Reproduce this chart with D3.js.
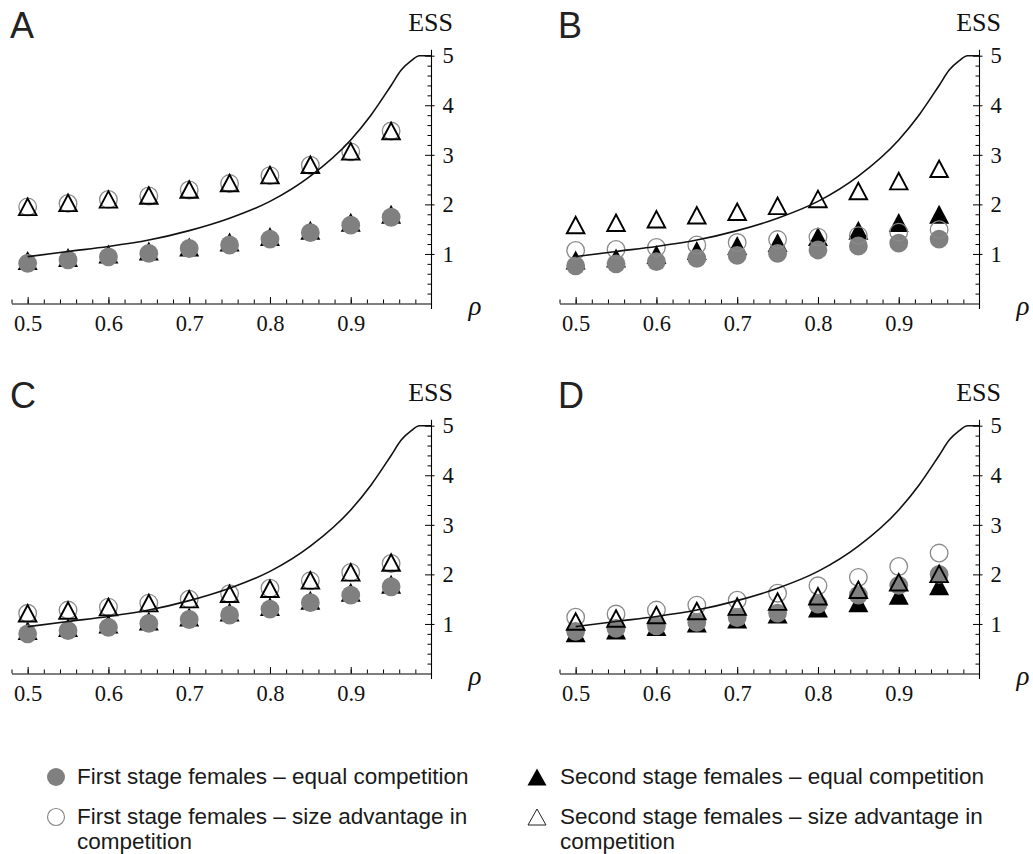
<!DOCTYPE html>
<html><head><meta charset="utf-8">
<script src="https://cdn.jsdelivr.net/npm/d3@7"></script>
<style>body{margin:0;background:#fff}</style>
</head><body>
<svg id="chart" width="1033" height="854"></svg>
<script>
// ---------- data ----------
const rho = [0.5,0.55,0.6,0.65,0.7,0.75,0.8,0.85,0.9,0.95];
const xTickValues = [0.5,0.6,0.7,0.8,0.9];
const xTickLabels = ["0.5","0.6","0.7","0.8","0.9"];
const yTickValues = [1,2,3,4,5];
const yTickLabels = ["1","2","3","4","5"];
const panelLabels = ["A","B","C","D"];

const curveRho = [0.5,0.55,0.6,0.65,0.7,0.75,0.8,0.85,0.9,0.925,0.95,0.9625,0.975,0.985,1.0];
const curveESS = [0.945,1.05,1.15,1.28,1.47,1.72,2.06,2.57,3.30,3.80,4.40,4.71,4.90,5.0,5.0];

const firstEqualA  = [0.81,0.88,0.94,1.01,1.11,1.18,1.30,1.43,1.58,1.74];
const secondEqualA = [0.87,0.93,1.00,1.06,1.14,1.24,1.35,1.48,1.64,1.80];
const firstSizeA   = [1.95,2.02,2.10,2.17,2.29,2.42,2.58,2.79,3.06,3.48];
const secondSizeA  = [1.95,2.03,2.10,2.18,2.30,2.43,2.59,2.80,3.07,3.48];

const firstEqualB  = [0.76,0.80,0.845,0.91,0.97,1.01,1.08,1.16,1.22,1.30];
const secondEqualB = [0.88,0.92,0.99,1.07,1.17,1.23,1.35,1.48,1.635,1.80];
const firstSizeB   = [1.07,1.09,1.13,1.18,1.23,1.29,1.34,1.37,1.44,1.49];
const secondSizeB  = [1.585,1.63,1.70,1.78,1.85,1.97,2.11,2.27,2.47,2.72];

const firstEqualC  = [0.80,0.865,0.93,1.01,1.09,1.18,1.30,1.43,1.58,1.75];
const secondEqualC = [0.87,0.93,1.00,1.06,1.14,1.24,1.35,1.48,1.64,1.80];
const firstSizeC   = [1.215,1.28,1.34,1.42,1.50,1.61,1.72,1.87,2.04,2.22];
const secondSizeC  = [1.215,1.27,1.34,1.42,1.50,1.61,1.71,1.88,2.04,2.24];

const firstEqualD  = [0.85,0.91,0.96,1.03,1.13,1.22,1.40,1.58,1.78,2.00];
const secondEqualD = [0.82,0.88,0.95,1.02,1.10,1.20,1.32,1.43,1.58,1.77];
const firstSizeD   = [1.135,1.20,1.28,1.38,1.48,1.62,1.77,1.94,2.16,2.43];
const secondSizeD  = [1.05,1.11,1.18,1.26,1.35,1.45,1.56,1.69,1.84,2.01];

const legendLabels = [
  ["First stage females \u2013 equal competition"],
  ["Second stage females \u2013 equal competition"],
  ["First stage females \u2013 size advantage in","competition"],
  ["Second stage females \u2013 size advantage in","competition"]
];

// ---------- layout ----------
const panels = [
  {label:panelLabels[0], fe:firstEqualA, se:secondEqualA, fs:firstSizeA, ss:secondSizeA, xr:[11.5,431.5], yr:[303.5,55.7]},
  {label:panelLabels[1], fe:firstEqualB, se:secondEqualB, fs:firstSizeB, ss:secondSizeB, xr:[559.5,979.5], yr:[303.5,55.7]},
  {label:panelLabels[2], fe:firstEqualC, se:secondEqualC, fs:firstSizeC, ss:secondSizeC, xr:[11.5,431.5], yr:[673.5,425.7]},
  {label:panelLabels[3], fe:firstEqualD, se:secondEqualD, fs:firstSizeD, ss:secondSizeD, xr:[559.5,979.5], yr:[673.5,425.7]}
];

const svg = d3.select("#chart");
const serif = "'Liberation Serif','Times New Roman',serif";
const sans = "'Liberation Sans',Arial,Helvetica,sans-serif";
const GRAY = "#808080";

function tri(cx, cy, w, h) {
  return `M${cx-w/2},${cy+h/2}L${cx},${cy-h/2}L${cx+w/2},${cy+h/2}Z`;
}

panels.forEach(p => {
  const x = d3.scaleLinear().domain([0.48, 1.0]).range(p.xr);
  const y = d3.scaleLinear().domain([0, 5]).range(p.yr);
  const g = svg.append("g");

  // x axis: minor ticks
  const minor = d3.range(0.48, 0.99, 0.02).map(v => +v.toFixed(2));
  g.append("g").attr("transform", `translate(0,${y(0)})`)
    .call(d3.axisBottom(x).tickValues(minor).tickSize(-4).tickSizeOuter(0).tickFormat(""))
    .call(s => s.select(".domain").attr("stroke","#000").attr("stroke-width",1.1));
  g.append("g").attr("transform", `translate(0,${y(0)})`)
    .call(d3.axisBottom(x).tickValues(xTickValues).tickSize(-6.5).tickPadding(12)
      .tickFormat((d,i) => xTickLabels[i]))
    .call(s => s.select(".domain").remove())
    .call(s => s.selectAll("text").attr("font-family", serif).attr("font-size", 22.5).attr("fill","#111"));

  // y axis
  const yMinor = d3.range(0.2, 5.01, 0.2).map(v => +v.toFixed(1)).filter(v => Math.abs(v - Math.round(v)) > 1e-6);
  const ax = g.append("g").attr("transform", `translate(${x(1)},0)`);
  ax.call(d3.axisRight(y).tickValues(yMinor).tickSize(-4).tickFormat(""))
    .call(s => s.select(".domain").remove());
  const ax2 = g.append("g").attr("transform", `translate(${x(1)},0)`);
  ax2.call(d3.axisRight(y).tickValues(yTickValues).tickSize(-6.5).tickPadding(11)
      .tickFormat((d,i) => yTickLabels[i]))
    .call(s => s.select(".domain").remove())
    .call(s => s.selectAll("line").attr("x1", 3))
    .call(s => s.selectAll("text").attr("font-family", serif).attr("font-size", 22.5).attr("fill","#111"));
  g.append("line")
    .attr("x1", x(1)).attr("x2", x(1))
    .attr("y1", y(5.12)).attr("y2", y(0) + 5.5)
    .attr("stroke", "#000").attr("stroke-width", 1.1);

  // labels
  g.append("text").text("ESS")
    .attr("x", x(1) + 21.5).attr("y", y(5) - 25)
    .attr("text-anchor", "end").attr("font-family", serif).attr("font-size", 26).attr("fill","#111");
  g.append("text").text("\u03c1")
    .attr("x", x(1) + 37).attr("y", y(0) + 11)
    .attr("font-family", serif).attr("font-style","italic").attr("font-size", 27).attr("fill","#111");
  g.append("text").text(p.label)
    .attr("x", x(0.48) - 1.5).attr("y", y(5) - 18)
    .attr("font-family", sans).attr("font-size", 36).attr("fill","#222");

  // markers: second stage equal (black triangles)
  g.append("g").selectAll("path").data(rho).join("path")
    .attr("d", (d,i) => tri(x(d), y(p.se[i]), 20, 19))
    .attr("fill", "#000");
  // first stage equal (gray filled circles)
  g.append("g").selectAll("circle").data(rho).join("circle")
    .attr("cx", d => x(d)).attr("cy", (d,i) => y(p.fe[i])).attr("r", 9.4)
    .attr("fill", GRAY);
  // first stage size advantage (open circles)
  g.append("g").selectAll("circle").data(rho).join("circle")
    .attr("cx", d => x(d)).attr("cy", (d,i) => y(p.fs[i])).attr("r", 8.8)
    .attr("fill", "none").attr("stroke", "#8a8a8a").attr("stroke-width", 1.3);
  // second stage size advantage (open triangles)
  g.append("g").selectAll("path").data(rho).join("path")
    .attr("d", (d,i) => tri(x(d), y(p.ss[i]), 17.5, 16.5))
    .attr("fill", "none").attr("stroke", "#000").attr("stroke-width", 1.9);

  // ESS curve
  const line = d3.line().x(d => x(d[0])).y(d => y(d[1])).curve(d3.curveMonotoneX);
  g.append("path").datum(curveRho.map((r,i) => [r, curveESS[i]]))
    .attr("d", line).attr("fill","none").attr("stroke","#111").attr("stroke-width",1.6);
});

// ---------- legend ----------
const legendPos = [
  {mx:56, tx:77, y:777, type:"grayCircle"},
  {mx:537, tx:560, y:777, type:"blackTri"},
  {mx:56, tx:77, y:817, type:"openCircle"},
  {mx:537, tx:560, y:817, type:"openTri"}
];
const lg = svg.append("g");
legendPos.forEach((lp, i) => {
  if (lp.type === "grayCircle") lg.append("circle").attr("cx", lp.mx).attr("cy", lp.y).attr("r", 9).attr("fill", GRAY);
  if (lp.type === "openCircle") lg.append("circle").attr("cx", lp.mx).attr("cy", lp.y).attr("r", 8.5).attr("fill","none").attr("stroke","#8a8a8a").attr("stroke-width",1.2);
  if (lp.type === "blackTri") lg.append("path").attr("d", tri(lp.mx, lp.y, 19, 17)).attr("fill","#000");
  if (lp.type === "openTri") lg.append("path").attr("d", tri(lp.mx, lp.y, 18, 16)).attr("fill","none").attr("stroke","#222").attr("stroke-width",1);
  const t = lg.append("text").attr("font-family", sans).attr("font-size", 22.5).attr("fill","#1a1a1a");
  legendLabels[i].forEach((s, k) => {
    t.append("tspan").attr("x", lp.tx).attr("y", lp.y + 6.5 + k * 25.5).text(s);
  });
});
</script>
</body></html>
